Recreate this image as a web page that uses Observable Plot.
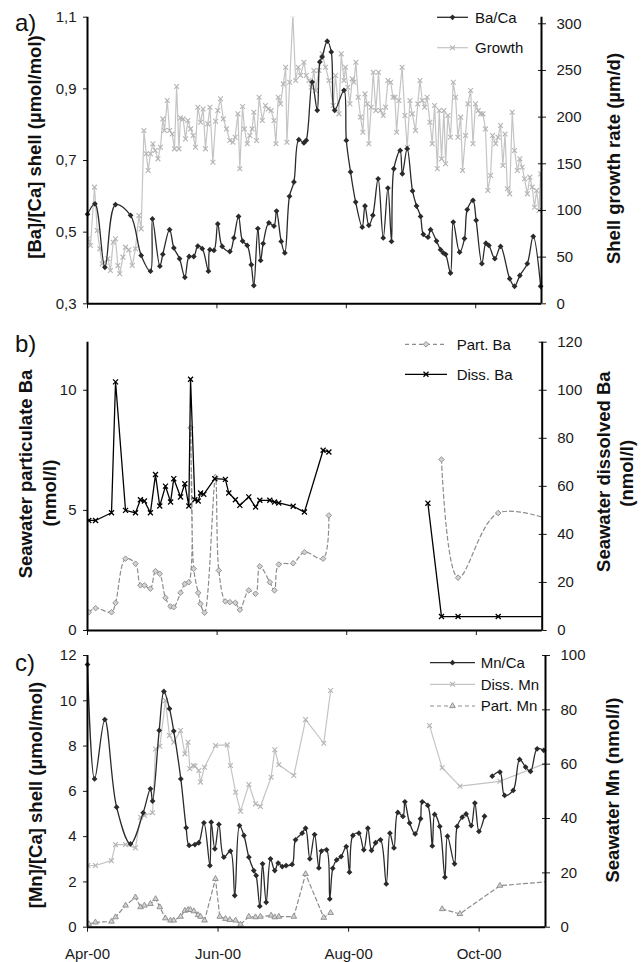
<!DOCTYPE html>
<html>
<head>
<meta charset="utf-8">
<script src="https://cdn.jsdelivr.net/npm/d3@7"></script>
<script src="https://cdn.jsdelivr.net/npm/@observablehq/plot@0.6"></script>
<style>
  body { margin: 0; background: #fff; }
  #wrap { position: relative; width: 641px; height: 962px; background: #fff;
          font-family: "Liberation Sans", Arial, sans-serif; }
  #wrap svg { position: absolute; left: 0; overflow: visible; }
</style>
</head>
<body>
<div id="wrap"></div>
<script>
// ---------- DATA (days after 1 Apr 2000; null = gap in record) ----------
const xTickDates = ["2000-04-01", "2000-06-01", "2000-08-01", "2000-10-01"];
const xTickLabels = ["Apr-00", "Jun-00", "Aug-00", "Oct-00"];

// Panel a
const baCaDay = [0,3.5,8.2,13.2,20.3,25.3,29.7,30.6,34.1,35.5,38.7,40.7,43.4,45.9,47.9,50.1,52,54.1,57,57.7,59.6,61.4,63.5,67.1,69,71.2,73.1,75.3,77.2,78.4,80.3,81.6,82.8,85.5,87.9,89.1,91.3,93,95.2,97.3,99.6,102,103.1,105.9,108.3,109.5,110.6,113,114.9,116.5,120.9,122,124,126.4,129.5,130.8,132.6,134.5,137,139.4,141.6,143.3,144.4,147.4,148.4,150.7,153.2,155.1,157,158.3,160.5,161.7,164.5,166.4,167.7,168.8,171.1,172.4,175.4,177.7,179,181.7,183.2,185.9,187.8,189.2,192,194.7,199,201.3,203.8,207.3,210.1,213.6];
const baCaVal = [0.55,0.579,0.402,0.577,0.547,0.435,0.391,0.537,0.405,0.438,0.507,0.456,0.426,0.374,0.432,0.432,0.461,0.454,0.391,0.451,0.449,0.523,0.46,0.446,0.484,0.544,0.475,0.463,0.409,0.351,0.51,0.421,0.468,0.526,0.517,0.559,0.474,0.442,0.6,0.64,0.758,0.749,0.756,0.919,0.84,0.975,0.989,1.033,1.003,0.84,0.896,0.756,0.668,0.584,0.514,0.573,0.519,0.547,0.649,0.484,0.623,0.474,0.677,0.728,0.663,0.733,0.615,0.573,0.544,0.494,0.486,0.507,0.475,0.451,0.442,0.438,0.386,0.528,0.444,0.482,0.563,0.589,0.533,0.412,0.469,0.463,0.426,0.46,0.37,0.349,0.379,0.412,0.488,0.349];
const growthDay = [0.2,1.4,3.3,4.6,5.8,6.9,8.2,9.6,10.8,12.1,13.2,14.3,15.2,16.7,17.9,19.5,21.1,22.6,24.2,25.3,26.6,27.7,28.6,29.7,30.8,31.9,33.2,34.4,35.5,36.3,37.6,38.7,39.9,41,42,43.1,43.8,45.1,46.2,47.3,48.6,49.8,50.9,52,53.3,54.5,55.6,56.7,57.7,59.1,60.4,61.4,62.7,64,65.5,67.1,68.5,69.6,70.9,71.8,73.1,74,75.3,76.5,77.6,78.4,79.7,80.9,82.4,83.9,85.2,86.6,87.9,88.8,89.9,91,92.3,93.4,94,95.3,96.8,98.1,99.3,100.4,102,103.1,104.4,105.5,106.7,107.5,109.1,110.6,112.2,113.8,115.8,116.9,118.5,119.6,120.9,121.6,122.7,123.7,124.8,125.6,126.5,127.6,128.7,129.8,130.8,131.9,132.6,133.7,134.7,135.9,137.2,138.1,139.4,140.5,141.6,142.9,144,144.9,145.7,146.8,148.3,149.6,150.7,152,153.1,154.6,155.7,156.7,157.8,158.9,160.1,161.4,162.5,163.6,164.9,165.8,166.9,168,168.8,169.9,171.1,172.4,173.5,174.6,175.9,176.8,178.2,179.3,180.6,181.7,182.9,184.2,185.3,186.4,187.6,188.7,190,190.9,192.4,193.5,194.7,195.8,196.8,197.9,199,200.2,201.3,202.6,203.8,204.9,206,207.3,208.5,209.6,210.7,211.7,212.8,213.6];
const growthVal = [69.6,62.5,125,78.5,58.9,42.8,44.6,48.2,35.7,66,69.6,41,32.1,50,60.7,57.8,41,58.9,94.6,80.3,185.6,160.7,142.8,160.7,171.4,164.2,155.3,167.8,198.1,185.6,217.8,185.6,182,166,232.8,166,199.2,198.1,176.7,196.4,187.4,180.3,167.8,210.6,194.6,208.8,166,192.8,210.6,151.7,195.6,207,219.6,198.1,187.4,175,173,178.5,203.5,144.6,211.3,187.4,171.4,180.3,187.4,205.3,175,221.3,196.4,212.4,208.8,207,196.4,171.4,221.3,214.2,235.6,253.5,173,237.4,310,239.2,253.5,244.5,258.8,244.5,239.2,232,250,228.5,250,267.8,253.5,239.2,212.4,244.5,203.5,267.8,239.2,253.5,232,214.2,241,237.4,258.8,221.3,200,183.9,224.9,214.2,171.4,210.6,248.1,207,248.1,207,201.7,210.6,239.2,237.4,221.3,221.3,183.9,217.8,253.5,201.7,167.8,217.8,203.5,185.6,214.2,239.2,217.8,210.6,221.3,194.6,171.4,212.4,144.6,207,155.3,207,150,201.7,178.5,237.4,221.3,178.5,200,142.8,180.3,214.2,228.5,171.4,214.2,207,203.5,203.5,187.4,121.4,137.4,180.3,171.4,178.5,191,148.2,182,123.2,117.8,205.3,164.2,142.8,155.3,146.4,133.9,117.8,135.7,125,103.5,121.4,100,139.2];
const baCaTicks = [0.3, 0.5, 0.7, 0.9, 1.1];
const growthTicks = [0, 50, 100, 150, 200, 250, 300];

// Panel b
const partBaDay = [0.6,3.8,11.3,13.2,17.9,22.6,24.9,26.8,29.6,32,34,36.7,39.1,40.6,43.8,45.8,47.7,48.5,50,52.1,53.2,55.1,60.2,61.8,64.9,67,69.6,71.7,75.9,79.1,81.1,85.8,88,90,96.8,102.1,110.9,113.6,140,166.6,174.4,193.3,225];
const partBaVal = [0.76,0.93,0.76,1.15,2.99,2.78,1.88,1.88,1.74,2.47,2.36,1.36,1.0,0.97,1.57,1.94,2.01,8.44,2.57,1.57,1.11,0.74,6.39,2.5,1.21,1.18,1.15,0.86,1.67,1.53,2.67,2.01,1.67,2.75,2.8,3.26,2.99,4.79,null,7.12,2.2,4.89,4.39];
const dissBaDay = [0.6,3.8,11.3,13.2,17.9,22.6,24.9,26.8,29.6,32,34,36.7,39.1,40.6,43.8,45.8,47.7,48.5,50.5,52.1,53.2,54.7,59.9,64.9,66.5,69.6,71.7,75.9,79.1,81.1,85.8,88,90,96.8,102.1,110.9,113.6,140,160.2,166.6,174.4,193.3,225];
const dissBaVal = [45.8,45.8,49,103.5,50,49,54.4,53.9,49,64.9,51.8,60.1,53.5,63.2,55.6,61.1,51.8,104.6,54.4,53.9,57.2,56.7,63.2,62.9,57.2,54.4,52.1,55.6,51.4,54.2,54.2,53.5,53.1,51.7,49.3,75,74.3,null,53,5.8,5.8,5.8,5.8];
const partBaTicks = [0, 5, 10];
const dissBaTicks = [0, 20, 40, 60, 80, 100, 120];

// Panel c
const mnCaDay = [0,3.3,8.1,13.6,20.1,26,29.4,30.4,33.5,35.7,38.3,40.3,43.6,46.1,47.5,50.2,52,54.4,57.2,57.8,59.5,61.4,63.7,66.8,68.8,71,73.1,75.4,77.7,78.8,80.5,81.8,83.5,85.5,87.5,89.1,91,92.8,95.6,97.2,100.3,101.9,103.9,106.1,108.1,109.3,111.7,113.2,114.6,116.4,118.5,120.9,122.4,124,126.8,129.1,131,132.7,134.6,136.9,139.6,141.3,143.2,145,147.4,148.3,150.5,153.1,155.6,156.4,159,161.1,162.2,164.6,167,168.2,171.5,172.7,175.1,176.9,179.3,181,182.9,185.5,187.3,189.1,192.7,194.9,198.9,201.9,204.7,207,210.1,213.2];
const mnCaVal = [11.6,6.55,9.17,5.3,3.68,5.05,6.11,5.57,8.69,10.41,9.65,8.66,6.55,4.39,3.61,3.65,3.73,4.61,2.72,4.64,3.46,4.54,3.09,3.36,1.4,4.49,4.05,3.09,2.5,2.28,0.93,2.8,1.1,3.02,2.5,2.83,2.68,2.72,2.77,3.86,4.15,4.37,3.02,4.09,2.62,3.36,3.42,1.25,2.6,2.97,3.12,3.56,2.43,4.05,4.15,3.42,4.37,3.39,3.73,3.86,1.91,4.15,3.5,5.07,4.89,5.54,4.6,4.12,4.79,5.54,5.38,3.59,4.98,4.45,2.21,4.02,2.8,4.45,4.86,5.0,4.49,5.48,4.23,4.9,null,6.67,6.85,5.82,6.04,7.41,7.07,6.88,7.88,7.81];
const dissMnDay = [0.2,3.7,11.2,13.1,17.8,22.4,24.8,26.6,30.4,31.8,33.8,36.4,38.3,40.3,43.5,45.5,47,47.8,49.4,50.2,52,52.8,54.7,59.8,65.3,66.8,69.2,71.5,75.4,78.5,80.8,85.8,87.5,89.4,96.4,101.9,110.4,113.6,140,159.8,165.7,174,192.7,222];
const dissMnVal = [22.7,22.7,24.5,30.4,30.4,29.2,40.5,41.1,42.1,65.6,66.6,83.4,70.6,68.1,72.4,63.8,68.1,58.3,59.5,59.3,57.7,53.4,58.9,66.9,67.1,59.5,49.7,42.7,52.5,45.4,44.4,55.2,65.3,59.8,55.8,76.4,67.7,87.1,null,74.2,58.7,51.9,53.7,62.8];
const partMnDay = [0.6,3.7,11.2,13.1,17.8,22.4,24.8,26.6,29.4,31.8,33.8,36.4,38.8,40.3,43.5,45.5,47,48.1,49.7,51.7,52.8,54.7,59.8,61.8,64.5,66.5,69.2,71.5,75.4,78.5,80.8,85.8,87.5,89.4,96.4,101.9,110.4,113.6,140,165.7,174,192.7,222];
const partMnVal = [1.2,1.8,2.1,3.7,8.0,11.0,7.4,8.0,8.6,10.4,7.4,3.3,2.5,2.5,3.9,6.1,6.4,6.4,5.9,4.5,3.9,2.5,17.8,3.9,3.1,2.7,2.5,1.0,3.9,3.7,3.9,4.3,3.7,3.9,3.9,19.6,3.5,5.3,null,6.7,4.9,15.3,17.2];
const mnCaTicks = [0, 2, 4, 6, 8, 10, 12];
const mnSwTicks = [0, 20, 40, 60, 80, 100];

// ---------- helpers ----------
const FONT = '"Liberation Sans", Arial, Helvetica, sans-serif';
const xStart = new Date(Date.UTC(2000, 3, 1));
const xEnd = new Date(Date.UTC(2000, 10, 1));
const toDate = d => new Date(xStart.getTime() + d * 864e5);
const series = (days, vals, f = v => v) =>
  days.map((d, i) => ({date: toDate(d), y: vals[i] == null ? NaN : f(vals[i])}));
const tickDates = xTickDates.map(s => new Date(s + "T00:00:00Z"));
const tickLabel = new Map(tickDates.map((d, i) => [d.getTime(), xTickLabels[i]]));

// right-axis conversions into left-axis units
const kA = 0.7816 / 300;           // growth (µm/d) -> Ba/Ca units
const toA = v => 0.3 + v * kA;
const toB = v => v / 10;           // dissolved Ba -> particulate Ba units
const toC = v => v * 0.12;         // seawater Mn -> Mn/Ca units

function frame(yMin) {
  return [
    Plot.ruleX([xStart], {stroke: "#000", strokeWidth: 2}),
    Plot.ruleX([xEnd], {stroke: "#000", strokeWidth: 2}),
    Plot.ruleY([yMin], {stroke: "#000", strokeWidth: 2})
  ];
}
function axes(leftTicks, leftFmt, rightTicks, toLeft, fromLeft, xLabels) {
  const rt = rightTicks.map(toLeft);
  return [
    Plot.axisY({anchor: "left", ticks: leftTicks, tickSize: 4, tickPadding: 7, tickFormat: leftFmt, label: null}),
    Plot.axisY({anchor: "right", ticks: rt, tickSize: 4, tickPadding: 11, tickFormat: d => String(Math.round(fromLeft(d))), label: null}),
    Plot.axisY({anchor: "right", ticks: rt, tickSize: -4, tickFormat: () => "", label: null}),
    Plot.axisX({ticks: tickDates, tickSize: 5, tickPadding: 16,
                tickFormat: xLabels ? (d => tickLabel.get(d.getTime())) : (() => ""), label: null})
  ];
}
const base = (h, mt, mb, mr) => ({
  width: 641, height: h, marginTop: mt, marginBottom: mb, marginLeft: 87, marginRight: mr,
  x: {type: "utc", domain: [xStart, xEnd]},
  style: {fontFamily: FONT, fontSize: "15px", color: "#1a1a1a", background: "transparent", overflow: "visible"}
});

const DARK = "#2a2a2a", LIGHT = "#c4c4c4", LIGHTM = "#b4b4b4", MID = "#8c8c8c";

// ---------- panel a ----------
const baCa = series(baCaDay, baCaVal);
const growth = series(growthDay, growthVal, toA);
const svgA = Plot.plot({
  ...base(310, 16.7, 6.7, 100),
  y: {domain: [0.3, 1.1]},
  marks: [
    Plot.line(growth, {x: "date", y: "y", stroke: LIGHT, strokeWidth: 1.2, clip: true}),
    Plot.dot(growth, {x: "date", y: "y", symbol: "times", r: 2.3, stroke: LIGHTM, strokeWidth: 1.1, clip: true}),
    Plot.line(baCa, {x: "date", y: "y", curve: "catmull-rom", stroke: DARK, strokeWidth: 1.3}),
    Plot.dot(baCa, {x: "date", y: "y", symbol: "diamond2", r: 2.6, fill: DARK, stroke: "none"}),
    ...axes(baCaTicks, d => d.toFixed(1).replace(".", ","), growthTicks, toA, d => (d - 0.3) / kA, false),
    ...frame(0.3)
  ]
});

// ---------- panel b ----------
const partBa = series(partBaDay, partBaVal);
const dissBa = series(dissBaDay, dissBaVal, toB);
const svgB = Plot.plot({
  ...base(330, 31.7, 10, 99.3),
  y: {domain: [0, 12]},
  marks: [
    Plot.line(partBa, {x: "date", y: "y", curve: "catmull-rom", stroke: MID, strokeWidth: 1.2, strokeDasharray: "4,3", clip: true}),
    Plot.dot(partBa, {x: "date", y: "y", symbol: "diamond2", r: 2.5, fill: "#d2d2d2", stroke: "#8a8a8a", strokeWidth: 0.9, clip: true}),
    Plot.line(dissBa, {x: "date", y: "y", stroke: "#000", strokeWidth: 1.3, clip: true}),
    Plot.dot(dissBa, {x: "date", y: "y", symbol: "times", r: 2.4, stroke: "#000", strokeWidth: 1.3, clip: true}),
    ...axes(partBaTicks, d => String(d), dissBaTicks, toB, d => d * 10, false),
    ...frame(0)
  ]
});

// ---------- panel c ----------
const mnCa = series(mnCaDay, mnCaVal);
const dissMn = series(dissMnDay, dissMnVal, toC);
const partMn = series(partMnDay, partMnVal, toC);
const svgC = Plot.plot({
  ...base(322, 15, 35.3, 96),
  y: {domain: [0, 12]},
  marks: [
    Plot.line(partMn, {x: "date", y: "y", stroke: MID, strokeWidth: 1.2, strokeDasharray: "4,3", clip: true}),
    Plot.dot(partMn, {x: "date", y: "y", symbol: "triangle2", r: 2.7, fill: "#d2d2d2", stroke: "#8a8a8a", strokeWidth: 0.9, clip: true}),
    Plot.line(dissMn, {x: "date", y: "y", stroke: LIGHT, strokeWidth: 1.2, clip: true}),
    Plot.dot(dissMn, {x: "date", y: "y", symbol: "times", r: 2.3, stroke: LIGHTM, strokeWidth: 1.1, clip: true}),
    Plot.line(mnCa, {x: "date", y: "y", curve: "catmull-rom", stroke: DARK, strokeWidth: 1.3}),
    Plot.dot(mnCa, {x: "date", y: "y", symbol: "diamond2", r: 2.6, fill: DARK, stroke: "none"}),
    ...axes(mnCaTicks, d => String(d), mnSwTicks, toC, d => d / 0.12, true),
    ...frame(0)
  ]
});

const wrap = document.getElementById("wrap");
[[svgA, 0], [svgB, 310], [svgC, 640]].forEach(([s, top]) => {
  s.style.position = "absolute";
  s.style.top = top + "px";
  s.style.left = "0px";
  wrap.appendChild(s);
});

// ---------- overlay: panel letters, axis titles, legends ----------
const ov = d3.select(wrap).append("svg")
  .attr("width", 641).attr("height", 962)
  .style("position", "absolute").style("top", "0px").style("left", "0px")
  .style("pointer-events", "none")
  .attr("font-family", FONT).attr("fill", "#111");

[["a)", 31], ["b)", 352], ["c)", 671]].forEach(([t, y]) =>
  ov.append("text").attr("x", 15).attr("y", y).attr("font-size", 24).text(t));

function vtitle(txt, cx, cy) {
  ov.append("text").attr("transform", `translate(${cx},${cy}) rotate(-90)`)
    .attr("text-anchor", "middle").attr("dy", "0.35em")
    .attr("font-weight", "bold").attr("font-size", 18.5).text(txt);
}
vtitle("[Ba]/[Ca] shell (µmol/mol)", 34.5, 147);
vtitle("Shell growth rate (µm/d)", 613.3, 158.5);
vtitle("Seawater particulate Ba", 25.8, 474);
vtitle("(nmol/l)", 49.7, 493);
vtitle("Seawater dissolved Ba", 604, 471.7);
vtitle("(nmol/l)", 627, 473.3);
vtitle("[Mn]/[Ca] shell (µmol/mol)", 35.8, 795);
vtitle("Seawater Mn (nmol/l)", 612.5, 790);

const SYM = {diamond: d3.symbolDiamond2, times: d3.symbolTimes, triangle: d3.symbolTriangle2};
function legendItem(x1, x2, y, tx, label, o) {
  ov.append("line").attr("x1", x1).attr("x2", x2).attr("y1", y).attr("y2", y)
    .attr("stroke", o.stroke).attr("stroke-width", o.width || 1.2)
    .attr("stroke-dasharray", o.dash || null);
  ov.append("path").attr("transform", `translate(${(x1 + x2) / 2},${y})`)
    .attr("d", d3.symbol(SYM[o.symbol], o.size || 21)())
    .attr("fill", o.symFill || "none").attr("stroke", o.symStroke || "none")
    .attr("stroke-width", o.symWidth || 1);
  ov.append("text").attr("x", tx).attr("y", y).attr("dy", "0.35em")
    .attr("font-size", 15).text(label);
}
legendItem(437, 468, 17.3, 475, "Ba/Ca", {stroke: DARK, width: 1.3, symbol: "diamond", symFill: DARK});
legendItem(437, 468, 47.7, 475, "Growth", {stroke: LIGHT, symbol: "times", size: 17, symStroke: LIGHTM, symWidth: 1.1});
legendItem(405, 447, 344.3, 456.7, "Part. Ba", {stroke: MID, dash: "4,3", symbol: "diamond", size: 20, symFill: "#d2d2d2", symStroke: "#8a8a8a", symWidth: 0.9});
legendItem(405, 447, 374.3, 456.7, "Diss. Ba", {stroke: "#000", width: 1.3, symbol: "times", size: 18, symStroke: "#000", symWidth: 1.3});
legendItem(430, 475, 662.7, 480.7, "Mn/Ca", {stroke: DARK, width: 1.3, symbol: "diamond", symFill: DARK});
legendItem(430, 475, 684.3, 480.7, "Diss. Mn", {stroke: LIGHT, symbol: "times", size: 17, symStroke: LIGHTM, symWidth: 1.1});
legendItem(430, 475, 706, 480.7, "Part. Mn", {stroke: MID, dash: "4,3", symbol: "triangle", size: 23, symFill: "#d2d2d2", symStroke: "#8a8a8a", symWidth: 0.9});
</script>
</body>
</html>
